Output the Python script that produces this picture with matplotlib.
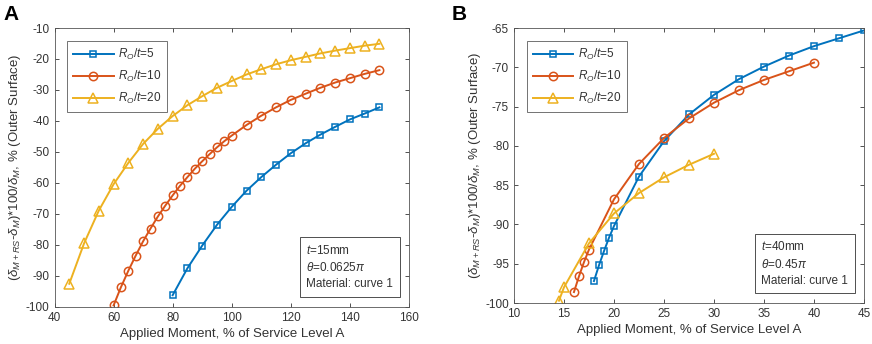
import numpy as np
import matplotlib.pyplot as plt

plt.rcParams['font.family'] = ['Liberation Sans', 'DejaVu Sans']
plt.rcParams['mathtext.fontset'] = 'custom'
plt.rcParams['mathtext.it'] = 'Liberation Sans:italic'
plt.rcParams['mathtext.rm'] = 'Liberation Sans'
plt.rcParams['axes.unicode_minus'] = False

# Panel A data (t=15mm)
a_x5 = [80, 85, 90, 95, 100, 105, 110, 115, 120, 125, 130, 135, 140, 145, 150]
a_y5 = [-96.2, -87.5, -80.2, -73.5, -67.7, -62.5, -58.1, -54.1, -50.4, -47.2,
        -44.4, -41.9, -39.5, -37.6, -35.6]
a_x10 = [60, 62.5, 65, 67.5, 70, 72.5, 75, 77.5, 80, 82.5, 85, 87.5, 90, 92.5,
         95, 97.5, 100, 105, 110, 115, 120, 125, 130, 135, 140, 145, 150]
a_y10 = [-99.5, -93.6, -88.3, -83.4, -78.8, -74.7, -70.8, -67.3, -64.0, -60.9,
         -58.1, -55.4, -53.0, -50.7, -48.5, -46.5, -44.7, -41.3, -38.3, -35.6,
         -33.2, -31.2, -29.3, -27.6, -26.2, -24.8, -23.6]
a_x20 = [45, 50, 55, 60, 65, 70, 75, 80, 85, 90, 95, 100, 105, 110, 115, 120,
         125, 130, 135, 140, 145, 150]
a_y20 = [-92.5, -79.5, -68.9, -60.4, -53.5, -47.4, -42.5, -38.4, -34.9, -32.0,
         -29.3, -27.1, -25.0, -23.3, -21.7, -20.4, -19.3, -18.2, -17.3, -16.5,
         -15.7, -15.1]

# Panel B data (t=40mm)
b_x5 = [18, 18.5, 19, 19.5, 20, 22.5, 25, 27.5, 30, 32.5, 35, 37.5, 40, 42.5, 45]
b_y5 = [-97.2, -95.2, -93.4, -91.7, -90.2, -83.9, -79.4, -76.0, -73.5, -71.5,
        -69.9, -68.5, -67.3, -66.3, -65.3]
b_x10 = [16, 16.5, 17, 17.5, 20, 22.5, 25, 27.5, 30, 32.5, 35, 37.5, 40]
b_y10 = [-98.6, -96.6, -94.8, -93.2, -86.8, -82.3, -79.0, -76.5, -74.5, -72.9,
         -71.6, -70.5, -69.4]
b_x20 = [14.5, 15, 17.5, 20, 22.5, 25, 27.5, 30]
b_y20 = [-99.7, -98.0, -92.4, -88.6, -86.0, -84.0, -82.4, -81.0]

colors = ['#0072BD', '#D95319', '#EDB120']
markers = ['s', 'o', '^']
msizes = [4, 6, 6.5]
labels = [r'$R_O$/$t$=5', r'$R_O$/$t$=10', r'$R_O$/$t$=20']
ylab = r'($\delta_{M+RS}$-$\delta_{M}$)*100/$\delta_{M}$, % (Outer Surface)'
xlab = 'Applied Moment, % of Service Level A'
txt = '#333333'

fig = plt.figure(figsize=(8.72, 3.44), dpi=100)
axA = fig.add_axes([0.0625, 0.1076, 0.4065, 0.811])
axB = fig.add_axes([0.5894, 0.119, 0.4014, 0.7994])


def draw(ax, series, xlim, ylim, xticks, yticks, note):
    for (x, y), c, m, ms, lab in zip(series, colors, markers, msizes, labels):
        ax.plot(x, y, color=c, marker=m, ms=ms, mfc='none', mew=1.1, lw=1.4,
                label=lab)
    ax.set_xlim(xlim)
    ax.set_ylim(ylim)
    ax.set_xticks(xticks)
    ax.set_yticks(yticks)
    ax.tick_params(direction='in', top=True, right=True, labelsize=8.5,
                   colors=txt, length=3, width=0.6)
    for s in ax.spines.values():
        s.set_color('#555555')
        s.set_linewidth(0.6)
    ax.set_xlabel(xlab, fontsize=9.5, color=txt, labelpad=3)
    ax.set_ylabel(ylab, fontsize=9.5, color=txt, labelpad=2)
    leg = ax.legend(loc='upper left', fontsize=8.5, frameon=True, fancybox=False,
                    edgecolor='#333333', handlelength=3.4, borderpad=0.5,
                    labelspacing=0.6, handletextpad=0.4,
                    bbox_to_anchor=(0.02, 0.975))
    leg.get_frame().set_linewidth(0.6)
    for t in leg.get_texts():
        t.set_color(txt)
    ax.text(0.955, 0.06, note, transform=ax.transAxes, ha='right', va='bottom',
            multialignment='left', fontsize=8.5, color=txt, linespacing=1.45,
            bbox=dict(boxstyle='square,pad=0.55', fc='white', ec='#333333', lw=0.6))


draw(axA, [(a_x5, a_y5), (a_x10, a_y10), (a_x20, a_y20)], (40, 160), (-100, -10),
     np.arange(40, 161, 20), np.arange(-100, -9, 10),
     '$t$=15mm\n' + r'$\theta$=0.0625$\pi$' + '\nMaterial: curve 1')
draw(axB, [(b_x5, b_y5), (b_x10, b_y10), (b_x20, b_y20)], (10, 45), (-100, -65),
     np.arange(10, 46, 5), np.arange(-100, -64, 5),
     '$t$=40mm\n' + r'$\theta$=0.45$\pi$' + '\nMaterial: curve 1')

fig.text(0.004, 0.985, 'A', fontsize=15, fontweight='bold', va='top', ha='left')
fig.text(0.518, 0.985, 'B', fontsize=15, fontweight='bold', va='top', ha='left')

fig.savefig('out.png', dpi=100)
